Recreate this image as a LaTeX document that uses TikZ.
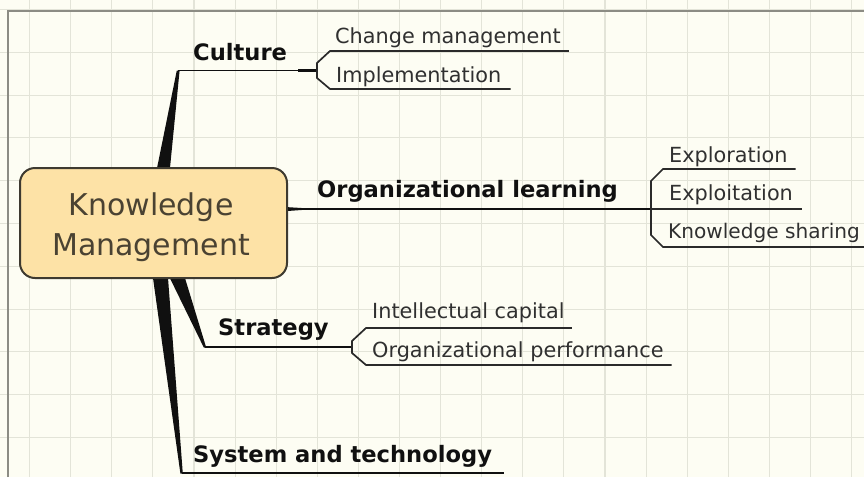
\documentclass[tikz,border=0pt]{standalone}
\usepackage{fontspec}
\setmainfont{DejaVu Sans}
\usetikzlibrary{calc}

\definecolor{paper}{HTML}{FDFDF3}
\definecolor{gridc}{HTML}{E3E4D8}
\definecolor{framec}{HTML}{8C8C84}
\definecolor{kmfill}{HTML}{FDE2A6}
\definecolor{kmborder}{HTML}{3E3A30}
\definecolor{kmink}{HTML}{4A4232}
\definecolor{branchc}{HTML}{101010}
\definecolor{subc}{HTML}{303030}
\definecolor{subline}{HTML}{2A2A2A}

\tikzset{
  gridline/.style={gridc, line width=1.1pt},
  kmbox/.style={draw=kmborder, fill=kmfill, line width=2pt, rounded corners=15pt,
    minimum width=267pt, minimum height=110pt, inner sep=0pt},
  kmlabel/.style={text=kmink, align=center, inner sep=0pt,
    font=\fontsize{30}{40}\selectfont},
  maintopic/.style={anchor=base west, inner sep=0pt, text=branchc,
    font=\bfseries\fontsize{22.6}{27}\selectfont},
  subtopic/.style={anchor=base west, inner sep=0pt, text=subc,
    font=\fontsize{20.8}{25}\selectfont},
  wedge/.style={fill=branchc},
  branchline/.style={branchc, line width=1.7pt},
  forkstub/.style={branchc, line width=2.8pt},
  bracket/.style={subline, line width=1.7pt, line join=miter},
}

\begin{document}
\begin{tikzpicture}[x=1pt,y=-1pt]
\useasboundingbox (0,0) rectangle (864,477);
\fill[paper] (0,0) rectangle (864,477);

% squared paper
\foreach \i in {0,...,20}
  \draw[gridline] ({29.6+41.1*\i},0) -- ++(0,477);
\foreach \j in {0,...,10}
  \draw[gridline] (0,{9.5+42.8*\j}) -- ++(864,0);

% sheet edge
\draw[framec, line width=1.5pt] (8,477) -- (8,11) -- (864,11);

% tapered main branches (their roots are hidden under the central box)
\coordinate (cultureTip) at (178,70.5);
\coordinate (strategyTip) at (205,347);
\coordinate (systemTip) at (181.5,473);
\coordinate (orgTip) at (303,209);

\fill[wedge] (154.6,180) -- (176.8,70.5) -- (179.6,70.5) -- (168.8,180) -- cycle;
\fill[wedge] (164,266) -- (203.8,347.5) -- (206.2,347.5) -- (181.3,266) -- cycle;
\fill[wedge] (151.3,266) -- (180.4,473.5) -- (182.8,473.5) -- (167.1,266) -- cycle;
\fill[wedge] (282,206.8) -- (303,208.1) -- (303,209.9) -- (282,211.4) -- cycle;

% central topic
\node[kmbox] (km) at (153.5,223) {};
\node[kmlabel] (kmtitle) at (151,227.5) {Knowledge\\Management};

% main topics
\node[maintopic] (culture) at (193,60.5) {Culture};
\node[maintopic] (org) at (317,197.5) {Organizational learning};
\node[maintopic] (strategy) at (218,335.5) {Strategy};
\node[maintopic] (system) at (193,462.5) {System and technology};

% subtopics
\node[subtopic] (change) at (335,43) {Change management};
\node[subtopic] (impl) at (336,82) {Implementation};
\node[subtopic] (explor) at (669,162) {Exploration};
\node[subtopic] (exploit) at (669,200) {Exploitation};
\node[subtopic, font=\fontsize{20.1}{25}\selectfont] (ksharing) at (668,238) {Knowledge sharing};
\node[subtopic] (intel) at (372,318) {Intellectual capital};
\node[subtopic] (orgperf) at (372,357) {Organizational performance};

% fork points where the subtopic brackets meet their parents
\coordinate (cultureFork) at (317,70.5);
\coordinate (orgFork) at (651,209);
\coordinate (strategyFork) at (352,347);

% Culture
\draw[branchline] (cultureTip) -- (cultureFork);
\draw[forkstub] ($(cultureFork)+(-19,0)$) -- (cultureFork);
\draw[bracket] ($(change.base east)+(8,8)$) -- (330,51) -- (317,63) -- (317,78)
  -- (330,89) -- ($(impl.base east)+(9,7)$);

% Organizational learning
\draw[branchline] (km.east |- orgTip) -- (orgFork);
\draw[forkstub] ($(orgFork)+(-19,0)$) -- (orgFork);
\draw[bracket] ($(explor.base east)+(8,7)$) -- (663,169) -- (651,181) -- (651,235)
  -- (663,247) -- ($(ksharing.base east)+(9,9)$);
\draw[bracket] (orgFork) -- ($(exploit.base east)+(9,9)$);

% Strategy
\draw[branchline] (strategyTip) -- (strategyFork);
\draw[forkstub] ($(strategyFork)+(-17,0)$) -- (strategyFork);
\draw[bracket] ($(intel.base east)+(7,10)$) -- (366,328) -- (352,341) -- (352,353)
  -- (366,365) -- ($(orgperf.base east)+(8,8)$);

% System and technology
\draw[branchline] (systemTip) -- ($(system.base east)+(12,10.5)$);
\end{tikzpicture}
\end{document}
